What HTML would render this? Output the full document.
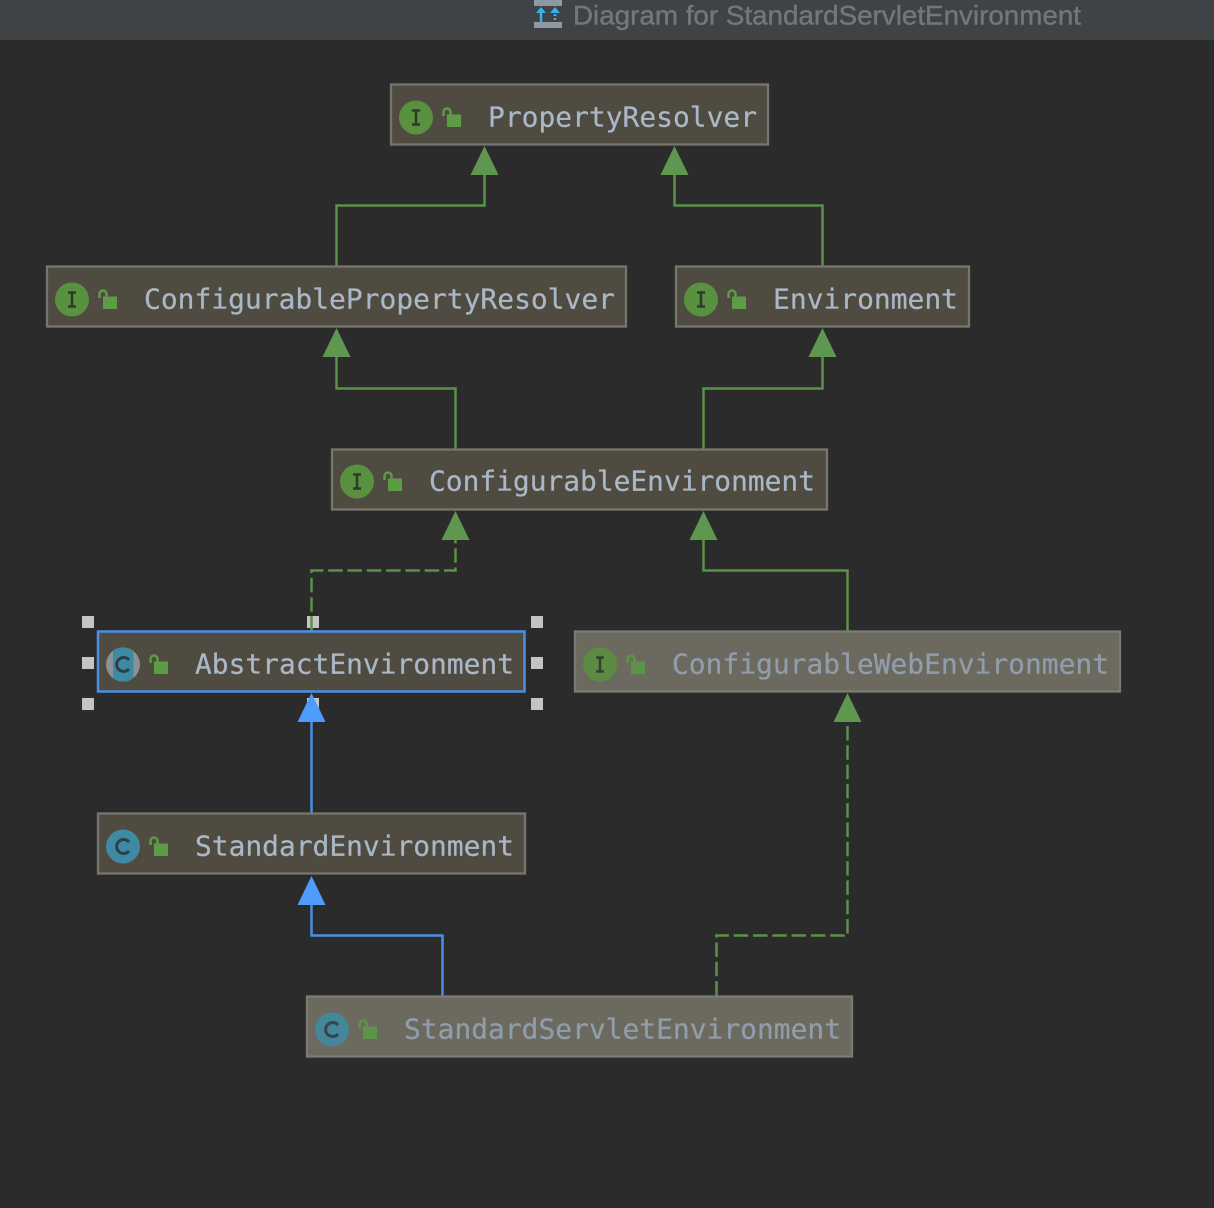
<!DOCTYPE html>
<html><head><meta charset="utf-8"><style>
html,body{margin:0;padding:0;background:#2b2b2b}
svg{display:block}
.t{font-family:"DejaVu Sans Mono","Liberation Mono",monospace;font-size:28px;stroke-width:.25px}
</style></head><body>
<svg xmlns="http://www.w3.org/2000/svg" width="1214" height="1208" viewBox="0 0 1214 1208">
<defs>
<g id="lock"><path d="M-6.500 -1.500V-5.500a3.500 3.500 0 0 1 7 0V-3" fill="none" stroke="#5d9b47" stroke-width="2.500"/><rect x="-3" y="-3" width="14" height="12.500" fill="#5d9b47"/></g>
<g id="I"><circle r="17" fill="#5a9140"/><path d="M-4-7H4M-4 7H4M0-7V7" stroke="#2f3a2b" stroke-width="2.500" fill="none"/></g>
<g id="C"><circle r="17" fill="#3f8aa3"/><path d="M6-4.500A7 7 0 1 0 6 4.500" stroke="#2e3f4c" stroke-width="3" fill="none"/></g>
<clipPath id="cc"><circle cx="123" cy="664.500" r="17"/></clipPath>
</defs>
<rect width="1214" height="1208" fill="#2b2b2b"/>
<rect width="1214" height="40" fill="#3f4346"/>
<rect x="534" y="0" width="28" height="6" fill="#8d99a3"/><rect x="534" y="22" width="28" height="6" fill="#8d99a3"/>
<path d="M541 10V22" stroke="#35b3e8" stroke-width="2.500"/><path d="M536 13L541 7L546 13Z" fill="#35b3e8"/>
<path d="M555 10V22" stroke="#35b3e8" stroke-width="2.500" stroke-dasharray="2 2"/><path d="M550 13L555 7L560 13Z" fill="#35b3e8"/>
<text x="573" y="24.500" font-family="'Liberation Sans',sans-serif" font-size="27" fill="#73777a" stroke="#73777a" stroke-width=".4" textLength="508" lengthAdjust="spacingAndGlyphs">Diagram for StandardServletEnvironment</text>

<!-- connectors -->
<g fill="none" stroke="#5b9249" stroke-width="2.500">
<path d="M336.500 266V205.500H484.500V170"/>
<path d="M822.500 266V205.500H674.500V170"/>
<path d="M455.500 449V388.500H336.500V352"/>
<path d="M703.500 449V388.500H822.500V352"/>
<path d="M847.500 631V570.500H703.500V535"/>
<path d="M311.500 631V570.500H455.500V535" stroke-dasharray="14.500 4.800"/>
<path d="M716.500 995.500V935.500H847.500V717" stroke-dasharray="14.500 4.800"/>
</g>
<g fill="#5f9650">
<path d="M484.500 146L498.500 175H470.500Z"/>
<path d="M674.500 146L688.500 175H660.500Z"/>
<path d="M336.500 328L350.500 357H322.500Z"/>
<path d="M822.500 328L836.500 357H808.500Z"/>
<path d="M455.500 511L469.500 540H441.500Z"/>
<path d="M703.500 511L717.500 540H689.500Z"/>
<path d="M847.500 693L861.500 722H833.500Z"/>
</g>
<g fill="none" stroke="#4c8fe6" stroke-width="2.500">
<path d="M311.500 813V715"/>
<path d="M442.500 996V935.500H311.500V898"/>
</g>

<!-- selection handles -->
<g fill="#c4c4c4">
<rect x="82" y="616" width="12" height="12"/><rect x="307" y="616" width="12" height="12"/><rect x="531" y="616" width="12" height="12"/>
<rect x="82" y="657" width="12" height="12"/><rect x="531" y="657" width="12" height="12"/>
<rect x="82" y="698" width="12" height="12"/><rect x="307" y="698" width="12" height="12"/><rect x="531" y="698" width="12" height="12"/>
</g>
<path d="M311.500 616V631" stroke="#5b9249" stroke-width="2.500"/>
<g fill="#4f9cff">
<path d="M311.500 693L325.500 722H297.500Z"/>
<path d="M311.500 876L325.500 905H297.500Z"/>
</g>

<!-- nodes -->
<g stroke="#76766f" stroke-width="2.300" fill="#4f4b41">
<rect x="391" y="84.500" width="377" height="60"/>
<rect x="47" y="266.500" width="579" height="60"/>
<rect x="676" y="266.500" width="293" height="60"/>
<rect x="332" y="449.500" width="495" height="60"/>
<rect x="98" y="813.500" width="427" height="60"/>
</g>
<g stroke="#7b7b75" stroke-width="2.300" fill="#6c695f">
<rect x="575" y="631.500" width="545" height="60"/>
<rect x="307" y="996.500" width="545" height="60"/>
</g>
<rect x="98" y="631.500" width="426.500" height="60" stroke="#4c8fe6" stroke-width="2.500" fill="#4f4b41"/>

<!-- icons -->
<use href="#I" x="416" y="117.500"/><use href="#lock" x="450" y="117.500"/>
<use href="#I" x="72" y="299.500"/><use href="#lock" x="106" y="299.500"/>
<use href="#I" x="701" y="299.500"/><use href="#lock" x="735" y="299.500"/>
<use href="#I" x="357" y="481.500"/><use href="#lock" x="391" y="481.500"/>
<circle cx="123" cy="664.500" r="17" fill="#8a9298"/>
<path d="M113 647H133.500V682H113Z" fill="#3f8aa3" clip-path="url(#cc)"/>
<path d="M129 660A7 7 0 1 0 129 669" stroke="#2e3f4c" stroke-width="3" fill="none"/>
<use href="#lock" x="157" y="664.500"/>
<use href="#C" x="123" y="846.500"/><use href="#lock" x="157" y="846.500"/>
<g opacity=".88"><use href="#I" x="600" y="664.500"/><use href="#lock" x="634" y="664.500"/></g>
<g opacity=".88"><use href="#C" x="332" y="1029.500"/><use href="#lock" x="366" y="1029.500"/></g>

<!-- labels -->
<g class="t" fill="#a9b7c6" stroke="#a9b7c6">
<text x="488" y="126.500" textLength="269" lengthAdjust="spacingAndGlyphs">PropertyResolver</text>
<text x="144" y="308.500" textLength="471" lengthAdjust="spacingAndGlyphs">ConfigurablePropertyResolver</text>
<text x="773" y="308.500" textLength="185" lengthAdjust="spacingAndGlyphs">Environment</text>
<text x="429" y="490.500" textLength="386" lengthAdjust="spacingAndGlyphs">ConfigurableEnvironment</text>
<text x="195" y="673.500" textLength="319" lengthAdjust="spacingAndGlyphs">AbstractEnvironment</text>
<text x="195" y="855.500" textLength="319" lengthAdjust="spacingAndGlyphs">StandardEnvironment</text>
</g>
<g class="t" fill="#909dab" stroke="#909dab">
<text x="672" y="673.500" textLength="437" lengthAdjust="spacingAndGlyphs">ConfigurableWebEnvironment</text>
<text x="404" y="1038.500" textLength="437" lengthAdjust="spacingAndGlyphs">StandardServletEnvironment</text>
</g>
</svg>
</body></html>
